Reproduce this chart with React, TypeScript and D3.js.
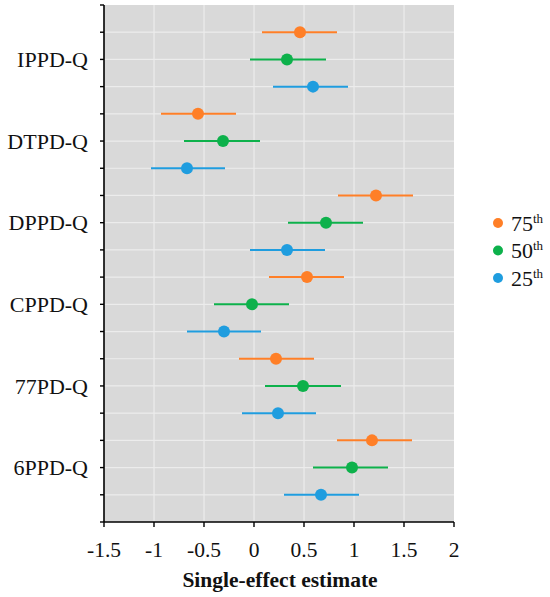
import React from "react";
import * as d3 from "d3";

// compounds, top to bottom
const compounds = ["IPPD-Q", "DTPD-Q", "DPPD-Q", "CPPD-Q", "77PD-Q", "6PPD-Q"];
const percentiles = ["75th", "50th", "25th"];
const colors = ["#FF7F27", "#0DB14B", "#1F9DDF"];

// estimate, lower, upper for each compound (75th, 50th, 25th)
const est75 = [0.46, -0.56, 1.22, 0.53, 0.22, 1.18];
const lo75 = [0.08, -0.93, 0.84, 0.15, -0.15, 0.83];
const hi75 = [0.83, -0.18, 1.59, 0.9, 0.6, 1.58];

const est50 = [0.33, -0.31, 0.72, -0.02, 0.49, 0.98];
const lo50 = [-0.04, -0.7, 0.34, -0.4, 0.11, 0.59];
const hi50 = [0.72, 0.06, 1.09, 0.35, 0.87, 1.34];

const est25 = [0.59, -0.67, 0.33, -0.3, 0.24, 0.67];
const lo25 = [0.19, -1.03, -0.04, -0.67, -0.12, 0.3];
const hi25 = [0.94, -0.29, 0.71, 0.07, 0.62, 1.05];

const xTicks = [-1.5, -1, -0.5, 0, 0.5, 1, 1.5, 2];

const W = 550;
const H = 597;
const left = 104;
const right = 454;
const top = 5;
const bottom = 522;
const serif = { fontFamily: '"Liberation Serif"' };

export default function App() {
  const x = d3.scaleLinear().domain([-1.5, 2]).range([left, right]);
  const y = d3.scaleLinear().domain([0, 19]).range([top, bottom]);

  const series = [
    { est: est75, lo: lo75, hi: hi75 },
    { est: est50, lo: lo50, hi: hi50 },
    { est: est25, lo: lo25, hi: hi25 },
  ];

  const rows = d3.range(1, 19);
  const yTicks = d3.range(0, 20);

  return (
    <>
      <style>{`body{margin:0}`}</style>
      <svg width={W} height={H} style={{ display: "block" }}>
        <rect x={left} y={top} width={right - left} height={bottom - top} fill="#d9d9d9" />
        {xTicks.slice(1, -1).map((t) => (
          <line key={"gx" + t} x1={x(t)} x2={x(t)} y1={top} y2={bottom} stroke="#ececec" strokeWidth={1.2} />
        ))}
        {rows.map((r) => (
          <line key={"gy" + r} x1={left} x2={right} y1={y(r)} y2={y(r)} stroke="#ececec" strokeWidth={1.2} />
        ))}

        {series.map((s, si) =>
          compounds.map((c, ci) => {
            const yy = y(ci * 3 + si + 1);
            return (
              <g key={c + si}>
                <line x1={x(s.lo[ci])} x2={x(s.hi[ci])} y1={yy} y2={yy} stroke={colors[si]} strokeWidth={2} />
                <circle cx={x(s.est[ci])} cy={yy} r={6} fill={colors[si]} />
              </g>
            );
          })
        )}

        {/* axes */}
        <line x1={left} x2={left} y1={top} y2={bottom} stroke="#000" strokeWidth={1.6} />
        <line x1={left} x2={right} y1={bottom} y2={bottom} stroke="#000" strokeWidth={1.6} />
        {yTicks.map((t) => (
          <line key={"ty" + t} x1={left - 4} x2={left} y1={y(t)} y2={y(t)} stroke="#000" strokeWidth={1.4} />
        ))}
        {xTicks.map((t) => (
          <g key={"tx" + t}>
            <line x1={x(t)} x2={x(t)} y1={bottom} y2={bottom + 5} stroke="#000" strokeWidth={1.4} />
            <text x={x(t)} y={bottom + 35} textAnchor="middle" fontSize={21.5} fill="#111" style={serif}>
              {t}
            </text>
          </g>
        ))}
        {compounds.map((c, ci) => (
          <text key={c} x={88} y={y(ci * 3 + 2)} dy="0.35em" textAnchor="end" fontSize={22} fill="#111" style={serif}>
            {c}
          </text>
        ))}
        <text x={(left + right) / 2 + 1} y={587} textAnchor="middle" fontSize={21.5} fontWeight="bold" fill="#111" style={serif}>
          Single-effect estimate
        </text>

        {/* legend */}
        {percentiles.map((p, i) => {
          const ly = 223 + i * 27.5;
          return (
            <g key={p}>
              <circle cx={498} cy={ly} r={5} fill={colors[i]} />
              <text x={511} y={ly} dy="0.35em" fontSize={22} fill="#111" style={serif}>
                {p.slice(0, 2)}
                <tspan fontSize={13} dy="-0.6em">
                  {p.slice(2)}
                </tspan>
              </text>
            </g>
          );
        })}
      </svg>
    </>
  );
}
